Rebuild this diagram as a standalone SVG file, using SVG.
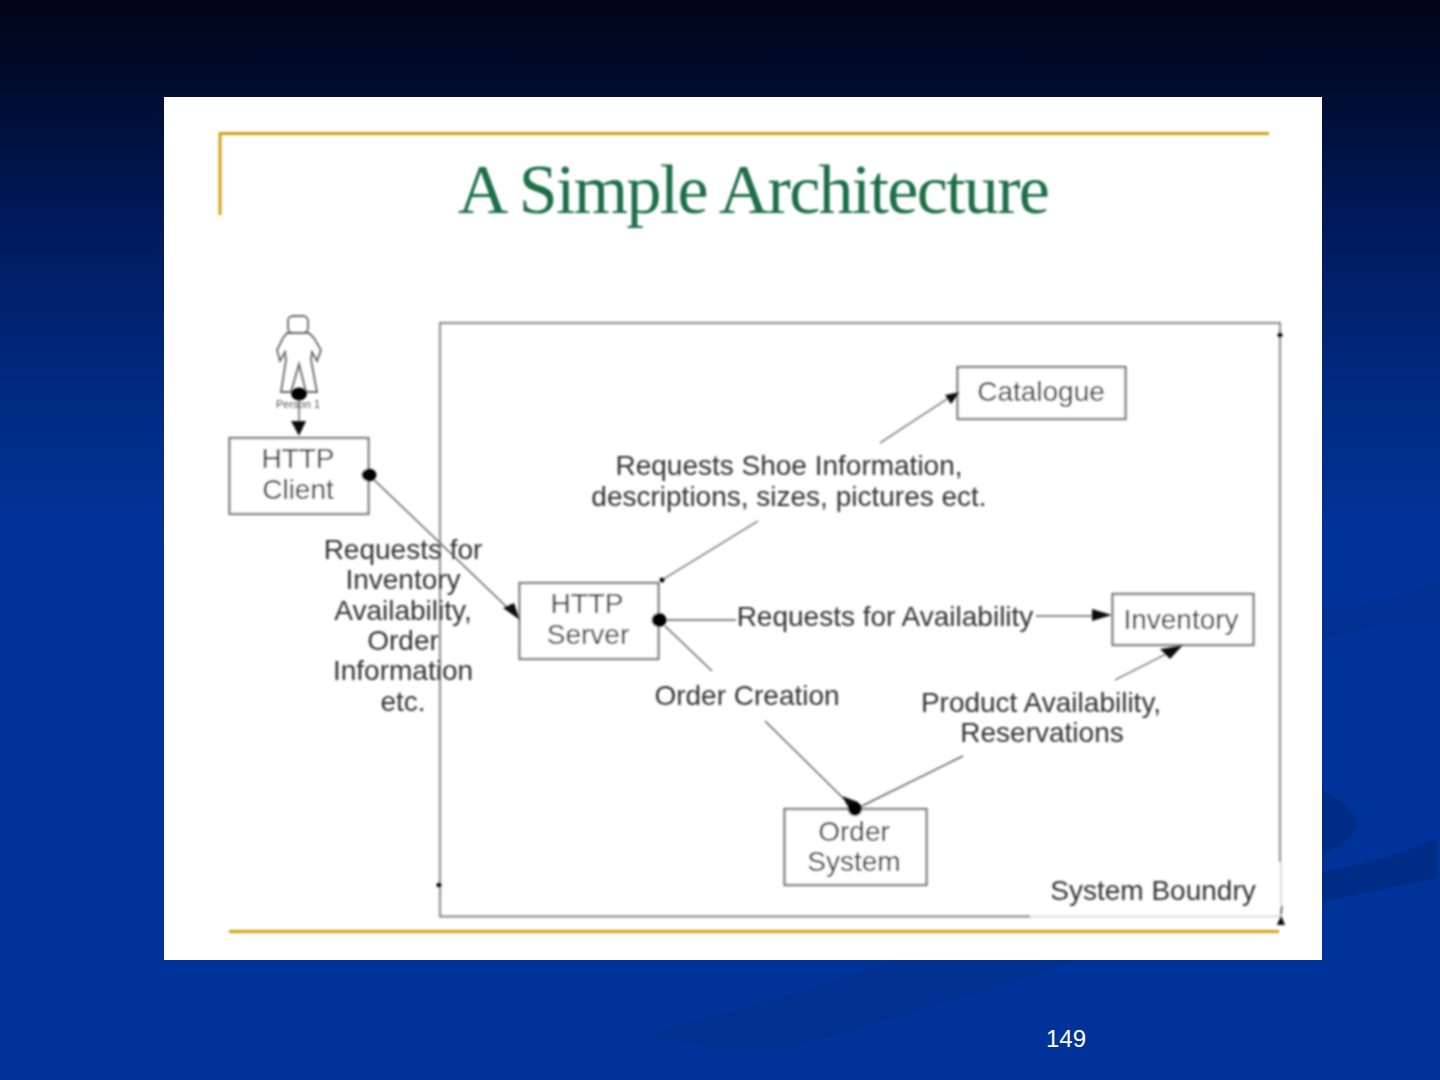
<svg xmlns="http://www.w3.org/2000/svg" width="1440" height="1080" viewBox="0 0 1440 1080">
<style>
.t{font-family:"Liberation Sans",Arial,sans-serif;font-size:28px;fill:#333;text-anchor:middle;transform:translateY(1px)}
.box{fill:#fff;stroke:#808080;stroke-width:2.4}
.c{fill:none;stroke:#5c5c5c;stroke-width:1.4}
.gold{fill:none;stroke:#d2a010;stroke-width:3}
.dot{fill:#000}
.head{fill:#111;stroke:none}
</style>
<defs>
<linearGradient id="bg" x1="0" y1="0" x2="0" y2="1">
<stop offset="0" stop-color="#000518"/>
<stop offset="0.08" stop-color="#000c2e"/>
<stop offset="0.2" stop-color="#00195a"/>
<stop offset="0.36" stop-color="#002a80"/>
<stop offset="0.5" stop-color="#003399"/>
<stop offset="1" stop-color="#003399"/>
</linearGradient>
<filter id="soft" x="-5%" y="-5%" width="110%" height="110%"><feGaussianBlur stdDeviation="0.9"/></filter>
</defs>
<rect width="1440" height="1080" fill="url(#bg)"/>
<g id="swooshes" fill="#002c85">
<path d="M1322 612Q1390 600 1440 582V622Q1390 620 1322 640Z" opacity=".4"/>
<path d="M1322 790Q1358 810 1357 825Q1350 845 1322 853Z"/>
<path d="M1322 872Q1390 860 1437 838V878Q1380 890 1322 902Z"/>
<path d="M900 960H1078Q960 1000 793 1047Q700 1050 640 1035Q780 1000 900 960Z" opacity=".45"/>
</g>
<rect id="slide" x="164" y="97" width="1158" height="863" fill="#fff"/>
<g id="picture" filter="url(#soft)">
<g id="frame">
<path class="gold" d="M220 215V133.500H1269"/>
<path class="gold" d="M229 931.500H1279"/>
</g>
<text id="title" x="753" y="213" text-anchor="middle" font-family="Liberation Serif,Times New Roman,serif" font-size="70" letter-spacing="-1.7" fill="#1e6e46">A Simple Architecture</text>
<g id="system-boundary">
<path d="M1030 916.500H440V323H1280V862" fill="none" stroke="#999" stroke-width="2.4"/>
<path d="M1030 916.500H1281V862" fill="none" stroke="#ddd" stroke-width="2"/>
<circle class="dot" cx="439" cy="885" r="2.500"/>
<circle class="dot" cx="1280" cy="335" r="2.500"/>
<path class="head" d="M1277 925L1281 915L1285 925Z"/>
<path d="M1282 906L1281 914" stroke="#333" stroke-width="1.500"/>
<text class="t" x="1153" y="899">System Boundry</text>
</g>
<g id="person" fill="none" stroke="#666" stroke-width="1.800">
<rect x="288" y="316" width="20" height="17" rx="5"/>
<path d="M287 333H309L314 338 321 350 317 361 312 352 311 360 317 392H306L299 364 291 392H281L286 360 285 352 280 361 277 350 283 338Z"/>
<text x="298" y="408" font-family="Liberation Sans,Arial,sans-serif" font-size="11" fill="#555" stroke="none" text-anchor="middle">Person 1</text>
</g>
<g id="http-client"><rect class="box" x="229.500" y="438" width="139" height="76"/><text class="t" x="298" y="467">HTTP</text><text class="t" x="298" y="498">Client</text></g>
<g id="requests-label"><text class="t" x="403" y="558">Requests for</text><text class="t" x="403" y="588">Inventory</text><text class="t" x="403" y="619">Availability,</text><text class="t" x="403" y="649">Order</text><text class="t" x="403" y="679">Information</text><text class="t" x="403" y="710">etc.</text></g>
<g id="http-server"><rect class="box" x="519.500" y="583" width="139" height="76"/><text class="t" x="587" y="612">HTTP</text><text class="t" x="588" y="643">Server</text></g>
<g id="catalogue"><rect class="box" x="957.500" y="367" width="168" height="52"/><text class="t" x="1041" y="400">Catalogue</text></g>
<g id="inventory"><rect class="box" x="1112.500" y="594" width="141" height="51"/><text class="t" x="1181" y="628">Inventory</text></g>
<g id="order-system"><rect class="box" x="784.500" y="809" width="142" height="76"/><text class="t" x="854" y="840">Order</text><text class="t" x="854" y="870">System</text></g>
<g id="labels">
<text class="t" x="789" y="474">Requests Shoe Information,</text>
<text class="t" x="789" y="505">descriptions, sizes, pictures ect.</text>
<text class="t" x="885" y="625">Requests for Availability</text>
<text class="t" x="747" y="704">Order Creation</text>
<text class="t" x="1041" y="711">Product Availability,</text>
<text class="t" x="1042" y="741">Reservations</text>
</g>
<g id="connectors">
<path class="c" d="M299 400V426"/>
<path class="head" d="M291 421H306L299 436Z"/>
<path class="c" d="M369 475L512 612"/>
<path class="head" d="M503 608L514 603L520 620Z"/>
<path class="c" d="M662 580L758 521"/>
<path class="c" d="M880 443L950 397"/>
<path class="head" d="M945 395L960 392L951 404Z"/>
<path class="c" d="M660 620H736"/>
<path class="c" d="M1036 616H1095"/>
<path class="head" d="M1092 609L1112 615L1092 621Z"/>
<path class="c" d="M665 626L712 671"/>
<path class="c" d="M765 721L845 800"/>
<path class="head" d="M842 796L858 802L852 814Z"/>
<path class="c" d="M862 806L963 756"/>
<path class="c" d="M1115 680L1170 652"/>
<path class="head" d="M1160 649L1183 645L1170 659Z"/>
<ellipse class="dot" cx="299" cy="394" rx="8" ry="6.500"/>
<ellipse class="dot" cx="369" cy="475" rx="7.500" ry="6.500"/>
<ellipse class="dot" cx="659" cy="620" rx="7.500" ry="7"/>
<circle class="dot" cx="855" cy="809" r="7"/>
<circle class="dot" cx="662" cy="580" r="2.500"/>
</g>
</g>
<text id="page" x="1066" y="1047" font-family="Liberation Sans,Arial,sans-serif" font-size="24" fill="#fff" text-anchor="middle">149</text>
</svg>
